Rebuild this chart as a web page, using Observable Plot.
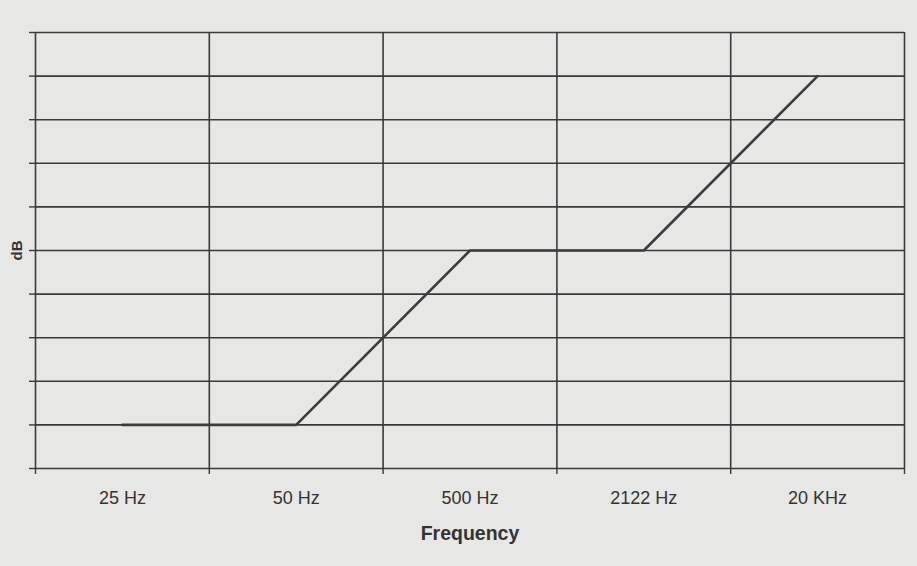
<!DOCTYPE html>
<html><head><meta charset="utf-8">
<script src="https://cdn.jsdelivr.net/npm/d3@7"></script>
<script src="https://cdn.jsdelivr.net/npm/@observablehq/plot@0.6"></script>
<style>
html,body{margin:0;padding:0;background:#e7e7e5;}
</style>
</head><body><div id="chart"></div>
<script>
const categories = ["25 Hz", "50 Hz", "500 Hz", "2122 Hz", "20 KHz"];
const dBValues = [1, 1, 5, 5, 9];
const yTicks = [0,1,2,3,4,5,6,7,8,9,10];
const xBounds = [0,1,2,3,4,5];

const data = categories.map((c, i) => ({cat: c, pos: i + 0.5, v: dBValues[i]}));
const ink = "#3a3a3a";

const chart = Plot.plot({
  width: 917, height: 566,
  marginLeft: 35, marginRight: 13, marginTop: 32, marginBottom: 98,
  style: {background: "#e7e7e5", fontFamily: "Liberation Sans, Arial, sans-serif"},
  x: {type: "linear", domain: [0, 5], axis: null},
  y: {type: "linear", domain: [0, 10], axis: null},
  marks: [
    Plot.ruleY(yTicks, {stroke: ink, strokeWidth: 1.6}),
    Plot.ruleX(xBounds, {stroke: ink, strokeWidth: 1.6}),
    Plot.axisY({ticks: yTicks, tickSize: 6, tickFormat: () => "", stroke: ink, strokeWidth: 1.4, label: null}),
    Plot.axisX({ticks: xBounds, tickSize: 6, tickFormat: () => "", stroke: ink, strokeWidth: 1.4, label: null}),
    Plot.line(data, {x: "pos", y: "v", stroke: "#3c3c3c", strokeWidth: 2.6}),
    Plot.text(data, {x: "pos", y: 0, text: "cat", dy: 30, fontSize: 18, fill: "#333"}),
    Plot.text(["Frequency"], {x: 2.5, y: 0, text: d => d, dy: 65, fontSize: 19.5, fontWeight: "bold", fill: "#333"}),
    Plot.text(["dB"], {x: 0, y: 5, text: d => d, dx: -18, rotate: -90, fontSize: 15, fontWeight: "bold", fill: "#333"})
  ]
});
document.getElementById("chart").appendChild(chart);
</script>
</body></html>
